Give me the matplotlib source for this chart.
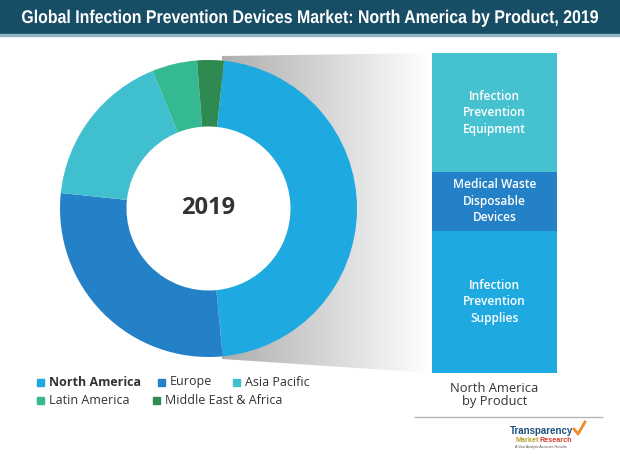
import matplotlib

matplotlib.use("Agg")
import matplotlib.pyplot as plt
import numpy as np
from matplotlib.font_manager import FontProperties
from matplotlib.patches import Circle, PathPatch, Polygon, Rectangle
from matplotlib.textpath import TextPath
from matplotlib.transforms import Affine2D

# region shares of the donut (%), clockwise from top
regions = ["North America", "Europe", "Asia Pacific", "Latin America", "Middle East & Africa"]
region_share = [46.8, 28.2, 17.2, 4.9, 2.9]
region_colors = ["#1fa9e1", "#2481c7", "#40bfcf", "#35b992", "#2e8a50"]

# North America by product (%), bottom to top
products = ["Infection\nPrevention\nSupplies", "Medical Waste\nDisposable\nDevices", "Infection\nPrevention\nEquipment"]
product_share = [44.4, 18.4, 37.2]
product_colors = ["#1fa9e1", "#2481c7", "#45c1cf"]

TITLE = "Global Infection Prevention Devices Market: North America by Product, 2019"
W, H = 620, 454

fig = plt.figure(figsize=(6.2, 4.54), dpi=100)
ax = fig.add_axes([0, 0, 1, 1])

# title band; text squeezed horizontally to mimic a condensed face
ax.add_patch(Rectangle((0, H - 34), W, 34, color="#174e66", zorder=1))
ax.add_patch(Rectangle((0, H - 36), W, 2, color="#8fb3c2", zorder=1))
tp = TextPath((0, 0), TITLE, size=20, prop=FontProperties(family="Liberation Sans", weight="bold"))
bb = tp.get_extents()
sx, sy = 576 / bb.width, 13.2 / (0.716 * 20)
tp = Affine2D().translate(-bb.x0, 0).scale(sx, sy).translate(22, H - 23).transform_path(tp)
ax.add_patch(PathPatch(tp, facecolor="white", edgecolor="none", zorder=2))

# donut
cx, cy, r_out, r_in = 208.5, H - 208.5, 148.5, 82
wedges, _ = ax.pie(region_share, colors=region_colors, startangle=84, counterclock=False,
                   center=(cx, cy), radius=r_out, wedgeprops=dict(width=r_out - r_in, linewidth=0),
                   frame=True)
for w in wedges:
    w.set_zorder(3)
ax.add_patch(Circle((cx, cy), r_in, color="white", zorder=2.5))
ax.text(cx, cy, "2019", ha="center", va="center", fontsize=17, fontweight="bold",
        color="#333333", family="Open Sans", zorder=4)

# product stack
bar_x, bar_w, bar_base = 432, 125, H - 373
scale = 320 / sum(product_share)
bottoms = np.concatenate([[0], np.cumsum(product_share)[:-1]])
ax.bar([bar_x + bar_w / 2] * 3, np.array(product_share) * scale, width=bar_w,
       bottom=bar_base + bottoms * scale, color=product_colors, linewidth=0, zorder=3)
for lab, b, s in zip(products, bottoms, product_share):
    ax.text(bar_x + bar_w / 2, bar_base + (b + s / 2) * scale, lab, ha="center", va="center",
            color="white", fontsize=8.6, fontweight="semibold", family="Open Sans",
            linespacing=1.35, zorder=4)

# gray gradient connecting donut to the stack
top_y, bot_y = bar_base + 320, bar_base
poly = Polygon([(222, H - 56), (bar_x, top_y), (bar_x, bot_y), (222, H - 359)], closed=True,
               facecolor="none", edgecolor="none")
ax.add_patch(poly)
grad = np.linspace(0.68, 1.0, 256).reshape(1, -1)
im = ax.imshow(grad, cmap="gray", vmin=0, vmax=1, extent=[222, bar_x, bot_y, top_y],
               aspect="auto", zorder=2)
im.set_clip_path(poly)

ax.text(bar_x + bar_w / 2, H - 395, "North America\nby Product", ha="center", va="center",
        fontsize=9.3, color="#333333", family="Open Sans", linespacing=1.0, zorder=4)
ax.plot([415, 602], [H - 417, H - 417], color="#b5b5b5", lw=1, zorder=4)

# legend
leg_pos = [(37, 382), (158, 382), (233, 382), (37, 400), (153, 400)]
for name, col, (lx, ly) in zip(regions, region_colors, leg_pos):
    ax.add_patch(Rectangle((lx, H - ly - 3.5), 7, 7, color=col, zorder=4))
    ax.text(lx + 12, H - ly, name, ha="left", va="center", fontsize=9, color="#333333",
            family="Open Sans", fontweight="bold" if name == "North America" else "normal", zorder=4)

# logo
ax.text(573, H - 431, "Transparency", ha="right", va="center", fontsize=7, fontweight="bold",
        color="#1d4f7c", family="Liberation Sans", zorder=4)
ax.text(515, H - 440, "Market", ha="left", va="center", fontsize=5.2, fontweight="bold",
        color="#b9a233", family="Liberation Sans", zorder=4)
ax.text(540, H - 440, "Research", ha="left", va="center", fontsize=5.2, fontweight="bold",
        color="#d8412e", family="Liberation Sans", zorder=4)
ax.text(515, H - 447, "A Vast Analytic Accurate Results", ha="left", va="center", fontsize=2.6,
        color="#555555", family="Liberation Sans", zorder=4)
ax.plot([574, 578, 585], [H - 429, H - 434, H - 422], color="#f08a24", lw=2, zorder=4)

ax.set_xlim(0, W)
ax.set_ylim(0, H)
ax.set_aspect("auto")
ax.axis("off")

fig.savefig("out.png", dpi=100)
